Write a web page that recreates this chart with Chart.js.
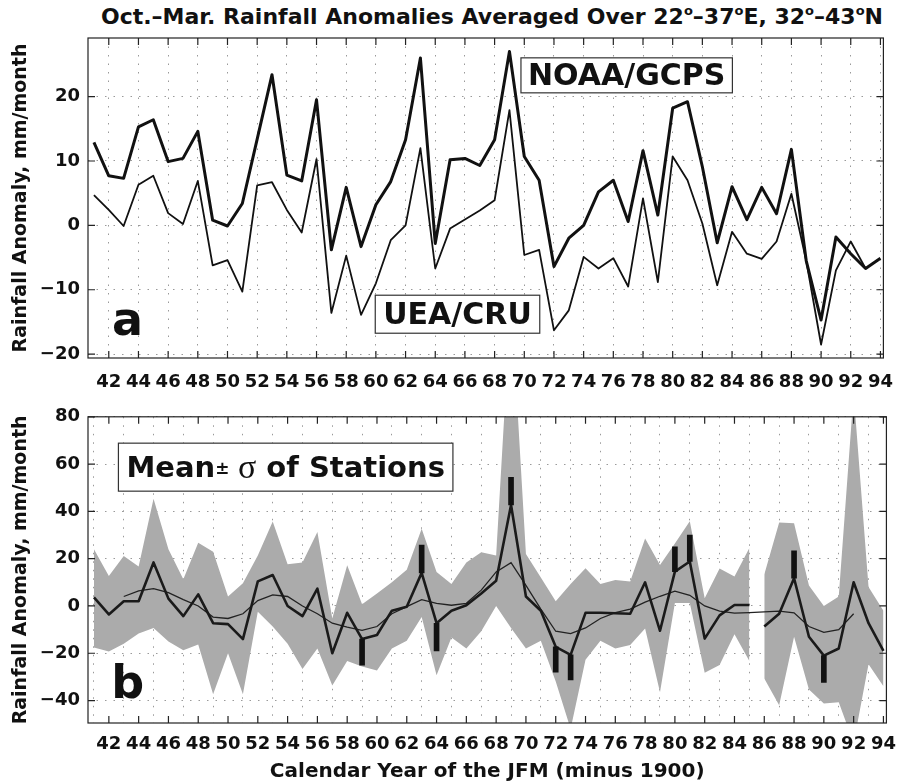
<!DOCTYPE html>
<html>
<head>
<meta charset="utf-8">
<script src="https://cdn.jsdelivr.net/npm/chart.js@4"></script>
<style>
  body { margin: 0; background: #fff; width: 907px; height: 784px; overflow: hidden; position: relative; font-family: "DejaVu Sans", sans-serif; }
  #title { position: absolute; left: 88px; width: 808px; top: 3px; text-align: center; font-weight: bold; font-size: 22px; line-height: 28px; color: #111; white-space: nowrap; }
  #title sup { font-size: 13px; vertical-align: 9px; line-height: 0; }
  canvas { position: absolute; left: 0; }
  #panelA { top: 0; }
  #panelB { top: 398px; }
</style>
</head>
<body>
<div id="title">Oct.–Mar. Rainfall Anomalies Averaged Over 22<sup>o</sup>–37<sup>o</sup>E, 32<sup>o</sup>–43<sup>o</sup>N</div>
<canvas id="panelA" width="907" height="398"></canvas>
<canvas id="panelB" width="907" height="386"></canvas>

<script>
  // years are JFM years minus 1900
  const years = [41,42,43,44,45,46,47,48,49,50,51,52,53,54,55,56,57,58,59,60,
                 61,62,63,64,65,66,67,68,69,70,71,72,73,74,75,76,77,78,79,80,
                 81,82,83,84,85,86,87,88,89,90,91,92,93,94];
  const xTicks = [42,44,46,48,50,52,54,56,58,60,62,64,66,68,70,72,74,76,78,80,82,84,86,88,90,92,94];
  const yTicksA = [-20, -10, 0, 10, 20];
  const yTicksB = [-40, -20, 0, 20, 40, 60, 80];

  // panel a
  const noaaGcps = [12.9,7.7,7.3,15.3,16.4,9.9,10.4,14.6,0.8,-0.1,
                    3.4,13.4,23.4,7.8,6.9,19.5,-3.8,5.9,-3.3,3.2,
                    6.8,13.3,26.0,-2.8,10.2,10.4,9.3,13.3,27.0,10.7,
                    7.0,-6.4,-2.0,0.0,5.2,7.0,0.6,11.6,1.6,18.2,
                    19.2,9.1,-2.7,6.0,0.9,5.9,1.8,11.8,-5.5,-14.7,
                    -1.8,-4.4,-6.7,-5.1];
  const ueaCru = [4.7,2.4,-0.1,6.3,7.7,1.9,0.2,6.9,-6.2,-5.4,
                  -10.3,6.2,6.7,2.4,-1.1,10.3,-13.6,-4.7,-13.9,-9.0,
                  -2.3,0.0,12.0,-6.7,-0.5,0.9,2.3,3.9,17.9,-4.6,
                  -3.8,-16.3,-13.2,-4.9,-6.7,-5.1,-9.5,4.2,-8.8,10.7,
                  7.0,0.3,-9.3,-1.0,-4.4,-5.2,-2.5,4.9,-5.5,-18.5,
                  -7.0,-2.5,-6.7,null];

  // panel b
  const stationMean = [3.6,-3.6,2.0,2.0,18.4,3.1,-4.3,4.9,-7.3,-7.7,
                       -14.0,10.4,13.1,0.0,-4.3,7.3,-20.0,-2.9,-14.0,-12.3,
                       -2.0,-0.3,14.0,-7.3,-2.0,0.3,5.3,10.7,42.7,4.0,
                       -2.0,-17.3,-20.7,-2.9,-2.9,-3.1,-3.3,10.0,-10.5,14.5,
                       18.8,-13.8,-4.0,0.4,0.4,-8.7,-3.3,11.7,-13.0,-21.0,
                       -18.0,10.0,-7.3,-19.0];
  const smoothMean = [null,null,4.0,6.4,7.3,5.6,2.7,0.0,-4.7,-5.3,
                      -3.3,2.3,4.7,4.0,0.0,-3.3,-7.3,-9.0,-10.3,-8.7,
                      -3.3,-0.3,2.7,1.1,0.3,1.1,6.7,14.4,18.3,8.7,
                      -1.3,-10.7,-11.7,-9.3,-5.3,-2.8,-1.3,1.6,4.1,6.3,
                      4.5,0.0,-2.2,-3.0,-2.8,-2.5,-2.2,-2.9,-8.7,-11.2,
                      -10.0,-3.3,null,null];
  const sigmaHigh = [24.0,12.7,21.1,16.7,45.3,24.0,11.3,26.7,22.9,4.0,
                     9.6,21.3,35.7,17.6,18.4,31.3,-5.3,17.2,0.7,5.3,
                     10.0,15.3,32.7,14.4,9.3,18.4,22.7,21.3,130,22.0,
                     12.0,2.0,9.3,16.0,9.3,11.0,10.3,28.5,17.3,26.4,
                     35.8,3.3,15.8,12.5,24.5,13.3,35.3,35.0,8.7,0.0,
                     4.0,90,8.0,-2.0];
  const sigmaLow = [-17.6,-19.3,-16.0,-11.7,-9.3,-15.0,-18.7,-16.3,-37.3,-20.0,
                    -37.3,-2.4,-8.7,-16.0,-26.7,-18.0,-33.6,-23.3,-25.6,-27.3,
                    -18.0,-14.7,-4.7,-29.3,-13.3,-18.0,-10.7,0.0,-9.3,-18.0,
                    -14.7,-32.0,-52,-22.7,-14.7,-18.0,-16.5,-9.5,-36.5,1.3,
                    1.3,-28.3,-25.0,-12.0,-23.3,-30.7,-42.0,-13.0,-35.3,-41.3,
                    -40.7,-58,-24.7,-34.0];
  const gapAfter = 85;   // no station data joining 85 and 86
  const barYears = [59, 63, 64, 69, 72, 73, 80, 81, 88, 90];
  const barEnds = [-25, 25.7, -19, 54.4, -28, -31.3, 25, 30, 23.3, -32.3];

  const FONT = '"DejaVu Sans", sans-serif';
  Chart.defaults.font.family = FONT;
  Chart.defaults.color = '#111';

  function pts(vals, gap) {
    const out = [];
    years.forEach((yr, i) => {
      if (vals[i] !== null) out.push({ x: yr, y: vals[i] });
      if (gap && yr === gap) out.push({ x: yr + 0.5, y: null });
    });
    return out;
  }

  function minus(v) { return v < 0 ? '\u2212' + (-v) : '' + v; }

  function scalesFor(yMin, yMax, yTicks, axisH, tickPad, xTitle) {
    const grid = { color: '#9a9a9a', lineWidth: 1, drawTicks: false };
    const border = { display: false, dash: [1.5, 7] };
    return {
      x: {
        type: 'linear', min: 40.6, max: 94.2, offset: false,
        afterBuildTicks: s => { s.ticks = xTicks.map(v => ({ value: v })); },
        afterFit: s => { s.height = axisH; },
        ticks: { font: { size: 18, weight: 'bold' }, padding: tickPad, maxRotation: 0, autoSkip: false, callback: v => '' + v },
        grid: grid, border: border,
        title: xTitle ? { display: true, text: xTitle, font: { size: 20, weight: 'bold' }, padding: { top: 0, bottom: 0 } } : { display: false }
      },
      y: {
        min: yMin, max: yMax,
        afterBuildTicks: s => { s.ticks = yTicks.map(v => ({ value: v })); },
        afterFit: s => { s.width = 88; },
        ticks: { font: { size: 18, weight: 'bold' }, padding: 8, callback: minus },
        grid: grid, border: border,
        title: { display: true, text: 'Rainfall Anomaly, mm/month', font: { size: 19, weight: 'bold' }, padding: { top: 10, bottom: 0 } }
      }
    };
  }

  function drawLabel(ctx, x, y, l) {
    const px = x.getPixelForValue(l.x), py = y.getPixelForValue(l.y);
    const runs = l.runs || [{ t: l.text, f: 'bold ' + l.size + 'px ' + FONT }];
    let w = 0;
    runs.forEach(r => { ctx.font = r.f; r.w = ctx.measureText(r.t).width; w += r.w; });
    if (l.box) {
      ctx.fillStyle = '#fff';
      ctx.strokeStyle = '#333';
      ctx.lineWidth = 1.2;
      ctx.fillRect(px - w / 2 - l.padX, py - l.h / 2, w + 2 * l.padX, l.h);
      ctx.strokeRect(px - w / 2 - l.padX, py - l.h / 2, w + 2 * l.padX, l.h);
    }
    ctx.fillStyle = '#111';
    ctx.textBaseline = l.box ? 'middle' : 'alphabetic';
    ctx.textAlign = 'left';
    let cx = px - w / 2;
    runs.forEach(r => { ctx.font = r.f; ctx.fillText(r.t, cx, py + (l.box ? 2 : 0)); cx += r.w; });
  }

  const frame = {
    id: 'frame',
    afterDatasetsDraw(chart, args, opts) {
      const { ctx, chartArea: a, scales: { x, y } } = chart;
      ctx.save();
      ctx.strokeStyle = '#222';
      ctx.lineWidth = 1.2;
      ctx.strokeRect(a.left, a.top, a.right - a.left, a.bottom - a.top);
      ctx.beginPath();
      x.ticks.forEach(t => {
        const p = x.getPixelForValue(t.value);
        ctx.moveTo(p, a.top); ctx.lineTo(p, a.top + 7);
        ctx.moveTo(p, a.bottom); ctx.lineTo(p, a.bottom - 7);
      });
      y.ticks.forEach(t => {
        const p = y.getPixelForValue(t.value);
        ctx.moveTo(a.left, p); ctx.lineTo(a.left + 7, p);
        ctx.moveTo(a.right, p); ctx.lineTo(a.right - 7, p);
      });
      ctx.stroke();
      (opts.labels || []).forEach(l => drawLabel(ctx, x, y, l));
      ctx.restore();
    }
  };

  new Chart(document.getElementById('panelA'), {
    type: 'line',
    data: {
      datasets: [{
        label: 'NOAA/GCPS', data: pts(noaaGcps),
        borderColor: '#111', borderWidth: 3, pointRadius: 0, borderJoinStyle: 'round'
      }, {
        label: 'UEA/CRU', data: pts(ueaCru),
        borderColor: '#111', borderWidth: 1.8, pointRadius: 0, borderJoinStyle: 'round'
      }]
    },
    options: {
      responsive: false, animation: false, devicePixelRatio: 1,
      layout: { padding: { left: 0, right: 11, top: 38, bottom: 0 } },
      scales: scalesFor(-20.6, 29.1, yTicksA, 40, 14, null),
      plugins: {
        legend: { display: false }, tooltip: { enabled: false },
        frame: { labels: [
          { text: 'NOAA/GCPS', x: 76.9, y: 23.3, size: 30, box: true, padX: 7, h: 35 },
          { text: 'UEA/CRU', x: 65.5, y: -13.8, size: 30, box: true, padX: 8, h: 38 },
          { text: 'a', x: 43.27, y: -17.0, size: 46 }
        ] }
      }
    },
    plugins: [frame]
  });

  new Chart(document.getElementById('panelB'), {
    type: 'line',
    data: {
      datasets: [{
        label: 'Mean', data: pts(stationMean, gapAfter), order: 1,
        borderColor: '#1a1a1a', borderWidth: 2.6, pointRadius: 0, borderJoinStyle: 'round'
      }, {
        label: 'Smoothed', data: pts(smoothMean), order: 2,
        borderColor: '#222', borderWidth: 1.3, pointRadius: 0
      }, {
        type: 'bar', label: 'Extremes', order: 0,
        data: barYears.map((yr, i) => ({ x: yr, y: [stationMean[years.indexOf(yr)], barEnds[i]] })),
        backgroundColor: '#111', borderWidth: 0, barThickness: 5
      }, {
        label: 'Mean + sigma', data: pts(sigmaHigh, gapAfter), order: 5,
        borderWidth: 0, pointRadius: 0, fill: '+1', backgroundColor: '#ababab', borderColor: 'rgba(0,0,0,0)'
      }, {
        label: 'Mean - sigma', data: pts(sigmaLow, gapAfter), order: 6,
        borderWidth: 0, pointRadius: 0, borderColor: 'rgba(0,0,0,0)'
      }]
    },
    options: {
      responsive: false, animation: false, devicePixelRatio: 1,
      layout: { padding: { left: 0, right: 11, top: 2, bottom: 0 } },
      scales: scalesFor(-49.5, 80, yTicksB, 61, 11, 'Calendar Year of the JFM (minus 1900)'),
      plugins: {
        legend: { display: false }, tooltip: { enabled: false },
        frame: { labels: [
          { x: 53.87, y: 58.7, box: true, padX: 8, h: 48, runs: [
            { t: 'Mean', f: 'bold 29px ' + FONT },
            { t: '\u00b1', f: 'bold 17px ' + FONT },
            { t: ' \u03c3', f: '34px "Liberation Serif", serif' },
            { t: ' of Stations', f: 'bold 29px ' + FONT }
          ] },
          { text: 'b', x: 43.27, y: -39.1, size: 46 }
        ] }
      }
    },
    plugins: [frame]
  });
</script>
</body>
</html>
